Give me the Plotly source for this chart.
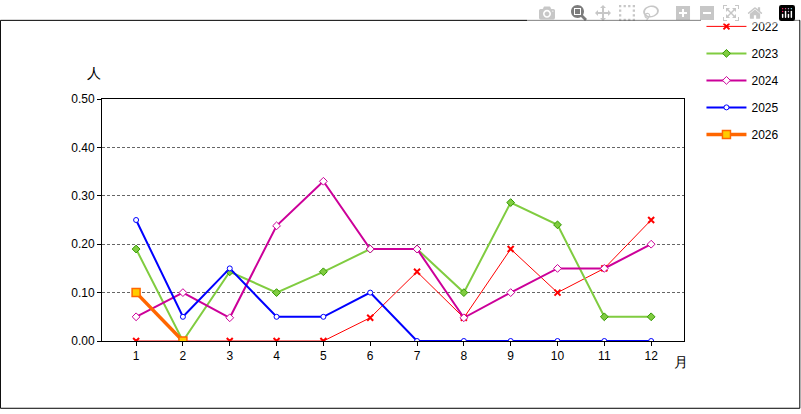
import plotly.graph_objects as go

months = [str(m) for m in range(1, 13)]
y2022 = [0, 0, 0, 0, 0, 0.048, 0.143, 0.048, 0.19, 0.10, 0.15, 0.25]
y2023 = [0.19, 0, 0.143, 0.10, 0.143, 0.19, 0.19, 0.10, 0.286, 0.24, 0.05, 0.05]
y2024 = [0.05, 0.10, 0.048, 0.238, 0.33, 0.19, 0.19, 0.048, 0.10, 0.15, 0.15, 0.20]
y2025 = [0.25, 0.05, 0.15, 0.05, 0.05, 0.10, 0, 0, 0, 0, 0, 0]
y2026 = [0.10, 0]

series = [
    ("2022", y2022, "#ff0000", 1, dict(symbol="x-thin", size=6, line=dict(width=2, color="#ff0000"))),
    ("2023", y2023, "#80cc40", 2, dict(symbol="diamond", size=6, color="#80cc40", line=dict(width=1, color="#339900"))),
    ("2024", y2024, "#cc0099", 2, dict(symbol="diamond", size=6, color="white", line=dict(width=1, color="#cc0099"))),
    ("2025", y2025, "#0000ff", 2, dict(symbol="circle", size=5, color="white", line=dict(width=1, color="#0000ff"))),
    ("2026", y2026, "#ff6600", 3.5, dict(symbol="square", size=8, color="#ffcc00", line=dict(width=1.5, color="#ff6600"))),
]

fig = go.Figure()
for i, (name, ys, color, w, marker) in enumerate(series):
    fig.add_trace(go.Scatter(x=months[:len(ys)], y=ys, name=name, mode="lines+markers",
                             line=dict(color=color, width=w), marker=marker,
                             legendgroup=str(i)))

fig.update_layout(
    width=801, height=414, paper_bgcolor="white", plot_bgcolor="white",
    margin=dict(l=102, r=117, t=84, b=73),
    font=dict(family="Arial, Liberation Sans", size=12, color="black"),
    legend=dict(x=1.03, y=1.36, xanchor="left", yanchor="top", tracegroupgap=8,
                font=dict(size=12), itemwidth=40),
    showlegend=True,
)
fig.update_xaxes(type="category", showline=True, linecolor="black", mirror=True,
                 ticks="outside", ticklen=4, tickcolor="black", showgrid=False)
fig.update_yaxes(range=[0, 0.5], dtick=0.1, tickformat=".2f", showline=True, linecolor="black",
                 mirror=True, ticks="outside", ticklen=4, tickcolor="black",
                 gridcolor="#666666", griddash="3px,2px", gridwidth=1, zeroline=False)
fig.add_annotation(text="人", xref="paper", yref="paper", x=-0.03, y=1.15, showarrow=False, font=dict(size=14))
fig.add_annotation(text="月", xref="paper", yref="paper", x=1.01, y=-0.13, showarrow=False, font=dict(size=14))
fig.add_shape(type="rect", xref="paper", yref="paper", x0=-0.1745, x1=1.199, y0=-0.278, y1=1.325,
              line=dict(color="black", width=1))
fig.write_html("out.html", post_script="document.body.style.margin='0';")
